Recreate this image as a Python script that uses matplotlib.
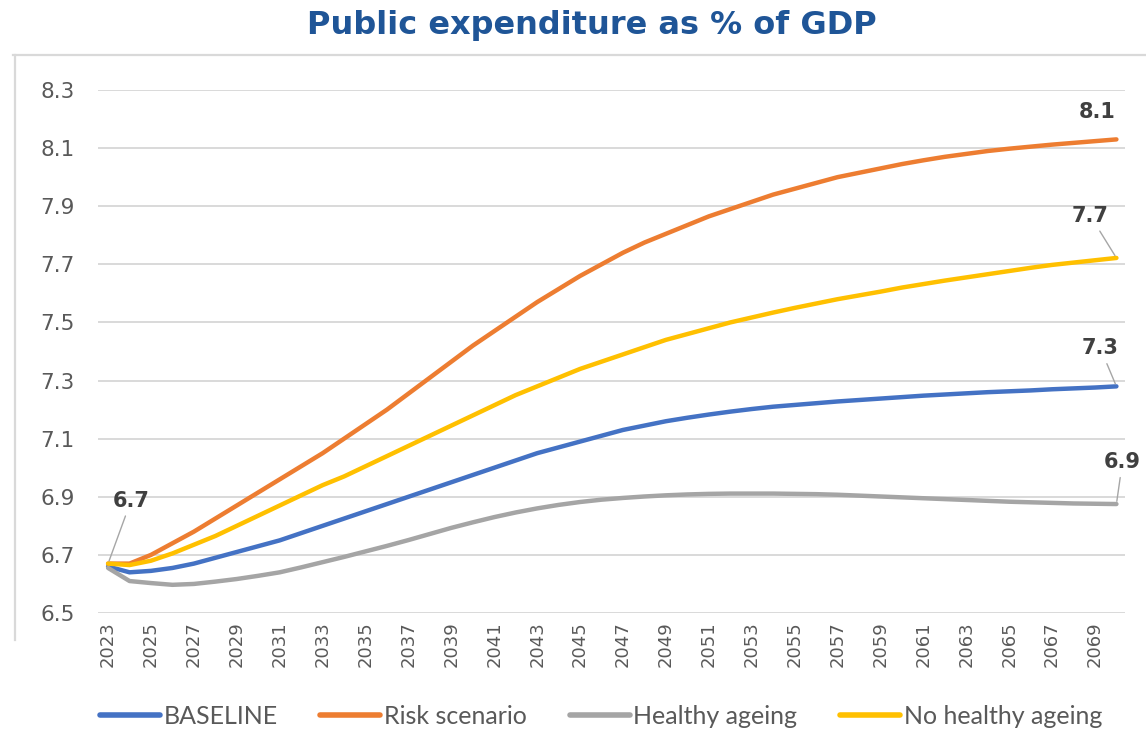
import matplotlib
matplotlib.use("Agg")
import matplotlib.pyplot as plt
from matplotlib.lines import Line2D

years = list(range(2023, 2071))

baseline = [6.66, 6.64, 6.645, 6.655, 6.67, 6.69, 6.71, 6.73, 6.75, 6.775,
            6.80, 6.825, 6.85, 6.875, 6.90, 6.925, 6.95, 6.975, 7.00, 7.025,
            7.05, 7.07, 7.09, 7.11, 7.13, 7.145, 7.16, 7.172, 7.183, 7.193,
            7.202, 7.21, 7.216, 7.222, 7.228, 7.233, 7.238, 7.243, 7.248, 7.252,
            7.256, 7.26, 7.263, 7.266, 7.27, 7.273, 7.276, 7.28]

risk = [6.67, 6.67, 6.70, 6.74, 6.78, 6.825, 6.87, 6.915, 6.96, 7.005,
        7.05, 7.10, 7.15, 7.20, 7.255, 7.31, 7.365, 7.42, 7.47, 7.52,
        7.57, 7.615, 7.66, 7.70, 7.74, 7.775, 7.805, 7.835, 7.865, 7.89,
        7.915, 7.94, 7.96, 7.98, 8.00, 8.015, 8.03, 8.045, 8.058, 8.07,
        8.08, 8.09, 8.098, 8.105, 8.112, 8.118, 8.124, 8.13]

healthy = [6.655, 6.61, 6.603, 6.597, 6.60, 6.608, 6.617, 6.628, 6.64, 6.657,
           6.675, 6.693, 6.712, 6.731, 6.751, 6.772, 6.793, 6.812, 6.83, 6.846,
           6.86, 6.872, 6.882, 6.89, 6.896, 6.901, 6.905, 6.908, 6.91, 6.911,
           6.911, 6.911, 6.91, 6.909, 6.907, 6.904, 6.901, 6.898, 6.895, 6.892,
           6.889, 6.886, 6.883, 6.881, 6.879, 6.877, 6.876, 6.875]

no_healthy = [6.67, 6.665, 6.68, 6.705, 6.735, 6.765, 6.80, 6.835, 6.87, 6.905,
              6.94, 6.97, 7.005, 7.04, 7.075, 7.11, 7.145, 7.18, 7.215, 7.25,
              7.28, 7.31, 7.34, 7.365, 7.39, 7.415, 7.44, 7.46, 7.48, 7.50,
              7.517, 7.534, 7.55, 7.565, 7.58, 7.593, 7.606, 7.62, 7.632, 7.644,
              7.655, 7.666, 7.677, 7.688, 7.698, 7.706, 7.714, 7.722]

series_names = ["BASELINE", "Risk scenario", "Healthy ageing", "No healthy ageing"]
series_values = [baseline, risk, healthy, no_healthy]
series_colors = ["#4472C4", "#ED7D31", "#A5A5A5", "#FFC000"]

y_ticks = [6.5, 6.7, 6.9, 7.1, 7.3, 7.5, 7.7, 7.9, 8.1, 8.3]
x_ticks = list(range(2023, 2070, 2))
title = "Public expenditure as % of GDP"

W, H = 1146, 731
fig = plt.figure(figsize=(W / 100, H / 100), dpi=100)
ax = fig.add_axes([98 / W, 1 - 613 / H, (1125 - 98) / W, (613 - 90) / H])

for name, vals, col in zip(series_names, series_values, series_colors):
    ax.plot(years, vals, color=col, lw=3.2, label=name, zorder=3,
            solid_capstyle="round", solid_joinstyle="round")

ax.set_ylim(6.5, 8.3)
ax.set_xlim(2022.53, 2070.4)
ax.set_yticks(y_ticks)
ax.set_yticklabels([f"{v:.1f}" for v in y_ticks])
ax.set_xticks(x_ticks)
ax.set_xticklabels([str(v) for v in x_ticks], rotation=90)
ax.tick_params(axis="y", length=0, pad=17, labelsize=15.5, labelcolor="#595959")
ax.tick_params(axis="x", length=0, pad=6, labelsize=13, labelcolor="#595959")
for lab in ax.get_yticklabels() + ax.get_xticklabels():
    lab.set_family("DejaVu Sans")
ax.grid(axis="y", color="#D9D9D9", lw=1.4, zorder=0)
ax.grid(axis="x", visible=False)
for s in ax.spines.values():
    s.set_visible(False)

# data labels
lab_kw = dict(fontsize=15, fontweight="bold", color="#404040", ha="center", va="center",
              textcoords="offset pixels", zorder=5)
leader = dict(arrowstyle="-", color="#A6A6A6", lw=1.0, shrinkA=2, shrinkB=2)
ax.annotate(f"{no_healthy[0]:.1f}", xy=(years[0], no_healthy[0]), xytext=(23, 63),
            arrowprops=leader, **lab_kw)
ax.annotate(f"{risk[-1]:.1f}", xy=(years[-1], risk[-1]), xytext=(-19, 27), **lab_kw)
ax.annotate(f"{no_healthy[-1]:.1f}", xy=(years[-1], no_healthy[-1]), xytext=(-26, 42),
            arrowprops=leader, **lab_kw)
ax.annotate(f"{baseline[-1]:.1f}", xy=(years[-1], baseline[-1]), xytext=(-16, 38),
            arrowprops=leader, **lab_kw)
ax.annotate(f"{healthy[-1]:.1f}", xy=(years[-1], healthy[-1]), xytext=(6, 42),
            arrowprops=leader, **lab_kw)

# title
fig.text(592 / W, 1 - 34 / H, title, ha="center", va="baseline", fontsize=23,
         fontweight="bold", color="#1F5597", family="DejaVu Sans")

# chart frame (left and top)
fig.add_artist(Line2D([13 / W, 1.0], [1 - 55 / H, 1 - 55 / H], color="#D9D9D9", lw=1.6))
fig.add_artist(Line2D([15 / W, 15 / W], [1 - 55 / H, 1 - 640 / H], color="#D9D9D9", lw=1.6))

leg = fig.legend(loc="center", bbox_to_anchor=(601 / W, 1 - 716 / H), ncol=4, frameon=False,
                 handlelength=2.4, handletextpad=0.15, columnspacing=1.7,
                 borderpad=0.1, prop={"family": "Lato", "size": 18})
for t in leg.get_texts():
    t.set_color("#595959")
for h in leg.get_lines():
    h.set_linewidth(4)

fig.savefig("out.png", dpi=100, facecolor="white")
